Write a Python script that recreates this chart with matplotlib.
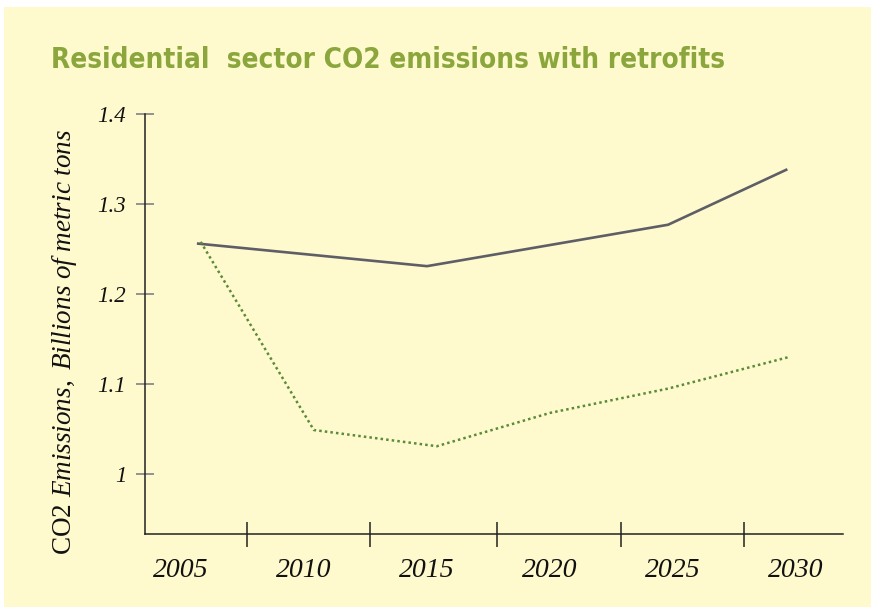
import matplotlib
matplotlib.use("Agg")
import matplotlib.pyplot as plt
from matplotlib.patches import Rectangle

# ---- data ----
title = "Residential  sector CO2 emissions with retrofits"
ylabel_upright = "CO2 "
ylabel_italic = "Emissions, Billions of metric tons"

base_years = [2005.7, 2015.0, 2024.8, 2029.6]
base_values = [1.256, 1.231, 1.277, 1.338]

retro_years = [2005.8, 2010.4, 2015.4, 2020.0, 2024.8, 2029.7]
retro_values = [1.258, 1.049, 1.031, 1.068, 1.095, 1.130]

xtick_years = [2005, 2010, 2015, 2020, 2025, 2030]
xtick_labels = ["2005", "2010", "2015", "2020", "2025", "2030"]
xdivider_years = [2007.7, 2012.7, 2017.85, 2022.9, 2027.9]
ytick_values = [1.0, 1.1, 1.2, 1.3, 1.4]
ytick_labels = ["1", "1.1", "1.2", "1.3", "1.4"]

# ---- style ----
plt.rcParams['mathtext.fontset'] = 'custom'
plt.rcParams['mathtext.rm'] = 'Liberation Serif'
plt.rcParams['mathtext.it'] = 'Liberation Serif:italic'

W, H = 871, 607
BG = '#fffacd'
fig = plt.figure(figsize=(W / 100, H / 100), dpi=100, facecolor='white')
fig.patches.append(Rectangle((4 / W, 0), 1 - 4 / W, 1 - 7 / H, transform=fig.transFigure,
                             facecolor=BG, edgecolor='none', zorder=-10))

ax = fig.add_axes([145 / W, 1 - 534 / H, (843 - 145) / W, (534 - 114) / H])
ax.set_facecolor('none')

ax.plot(base_years, base_values, color='#5e5e66', lw=1.9, solid_joinstyle='miter', zorder=3)
ax.plot(retro_years, retro_values, color='#5a8a3a', lw=1.8, linestyle=(0, (1, 1.25)), zorder=3)

ax.set_xlim(2003.537, 2031.91)
ax.set_ylim(0.9335, 1.4)

for s in ['top', 'right']:
    ax.spines[s].set_visible(False)
for s in ['left', 'bottom']:
    ax.spines[s].set_color('#222222')
    ax.spines[s].set_linewidth(1.1)

ax.set_xticks(xtick_years)
ax.set_xticklabels(xtick_labels, fontfamily='Liberation Serif', fontstyle='italic', fontsize=20)
ax.set_xticks(xdivider_years, minor=True)
ax.tick_params(axis='x', which='major', length=0, pad=17, colors='#111111')
ax.tick_params(axis='x', which='minor', length=18, width=1.1, direction='inout', color='#222222')

ax.set_yticks(ytick_values)
ax.set_yticklabels(ytick_labels, fontfamily='Liberation Serif', fontstyle='italic', fontsize=16.5)
ax.tick_params(axis='y', which='major', length=13, width=1.3, direction='inout',
               color='#8a8a8a', labelcolor='#111111', pad=7)

fig.text(51 / W, 1 - 60 / H, title, fontfamily='DejaVu Sans', fontstretch='condensed',
         fontweight='bold', fontsize=20, color='#8aa63c', ha='left', va='center')

fig.text(65 / W, 1 - 342 / H, ylabel_upright + r'$\mathit{' + ylabel_italic.replace(' ', r'\ ') + '}$',
         fontfamily='Liberation Serif', fontsize=19.5, rotation=90, ha='center', va='center',
         color='#111111')

fig.savefig('out.png', dpi=100, facecolor=fig.get_facecolor())
